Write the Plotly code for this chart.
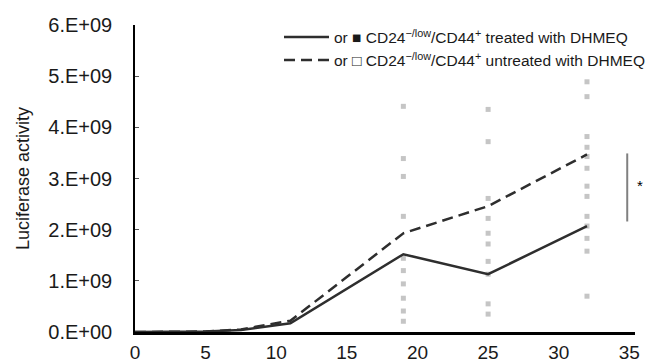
import plotly.graph_objects as go

# ---- data ----
days = [0, 2, 5, 7.5, 11, 19, 25, 32]
treated_mean = [0.0, 0.0, 0.01e9, 0.04e9, 0.17e9, 1.52e9, 1.13e9, 2.07e9]
untreated_mean = [0.0, 0.0, 0.01e9, 0.05e9, 0.22e9, 1.93e9, 2.46e9, 3.47e9]

# individual animals (faint squares)
ind_x = ([19] * 10) + ([25] * 10) + ([32] * 13)
ind_y = [4.41e9, 3.39e9, 3.04e9, 2.26e9, 1.44e9, 1.2e9, 0.94e9, 0.66e9, 0.41e9, 0.21e9,
         4.35e9, 3.72e9, 2.61e9, 2.22e9, 1.93e9, 1.72e9, 1.38e9, 1.13e9, 0.55e9, 0.35e9,
         4.89e9, 4.6e9, 3.82e9, 3.61e9, 3.43e9, 3.2e9, 2.85e9, 2.65e9, 2.26e9, 2.07e9,
         1.83e9, 1.58e9, 0.70e9]

bracket_x = [34.85, 34.85]
bracket_y = [2.16e9, 3.49e9]

y_tickvals = [0, 1e9, 2e9, 3e9, 4e9, 5e9, 6e9]
y_ticktext = ["0.E+00", "1.E+09", "2.E+09", "3.E+09", "4.E+09", "5.E+09", "6.E+09"]
x_tickvals = [0, 5, 10, 15, 20, 25, 30, 35]

name_treated = "or \u25A0 CD24<sup>\u2212/low</sup>/CD44<sup>+</sup> treated with DHMEQ"
name_untreated = "or \u25A1 CD24<sup>\u2212/low</sup>/CD44<sup>+</sup> untreated with DHMEQ"

FONT = "Liberation Sans, Arial, sans-serif"

fig = go.Figure()

fig.add_trace(go.Scatter(
    x=ind_x, y=ind_y, mode="markers",
    marker=dict(symbol="square", size=5, color="rgba(110,110,110,0.4)"),
    showlegend=False, hoverinfo="skip", cliponaxis=False))

fig.add_trace(go.Scatter(
    x=days, y=treated_mean, mode="lines", name=name_treated,
    line=dict(color="#2e2e2e", width=2.5)))

fig.add_trace(go.Scatter(
    x=days, y=untreated_mean, mode="lines", name=name_untreated,
    line=dict(color="#2e2e2e", width=2.5, dash="11px,6px")))

fig.add_trace(go.Scatter(
    x=bracket_x, y=bracket_y, mode="lines",
    line=dict(color="#808080", width=2),
    showlegend=False, hoverinfo="skip", cliponaxis=False))

fig.add_annotation(x=1.02, xref="paper", y=2.86e9, text="*", showarrow=False,
                   font=dict(size=15, color="black", family=FONT))

# page body has an 8px margin, so the figure is sized to fit the 662x363 window
fig.update_layout(
    width=654, height=355,
    margin=dict(l=127, r=22, t=16, b=31),
    paper_bgcolor="white", plot_bgcolor="white",
    font=dict(family=FONT, size=16, color="#1a1a1a"),
    showlegend=True,
    legend=dict(x=1.03, xanchor="right", y=1.015, yanchor="top",
                font=dict(size=15.5, family=FONT, color="#1a1a1a"),
                bgcolor="rgba(0,0,0,0)", itemwidth=45,
                tracegroupgap=0),
)

fig.update_xaxes(range=[0, 35.4], tickvals=x_tickvals, showgrid=False, zeroline=False,
                 showline=True, linecolor="black", linewidth=2.5, automargin=False,
                 ticks="", tickfont=dict(size=19), ticklabelstandoff=1)
fig.update_yaxes(range=[0, 6e9], tickvals=y_tickvals, ticktext=y_ticktext,
                 showgrid=False, zeroline=False, showline=True, linecolor="black",
                 linewidth=1.5, ticks="inside", ticklen=4, tickcolor="#555",
                 automargin=False,
                 tickfont=dict(size=20), ticklabelstandoff=17,
                 title=dict(text="Luciferase activity", font=dict(size=18), standoff=14))

fig.write_html("out.html")
